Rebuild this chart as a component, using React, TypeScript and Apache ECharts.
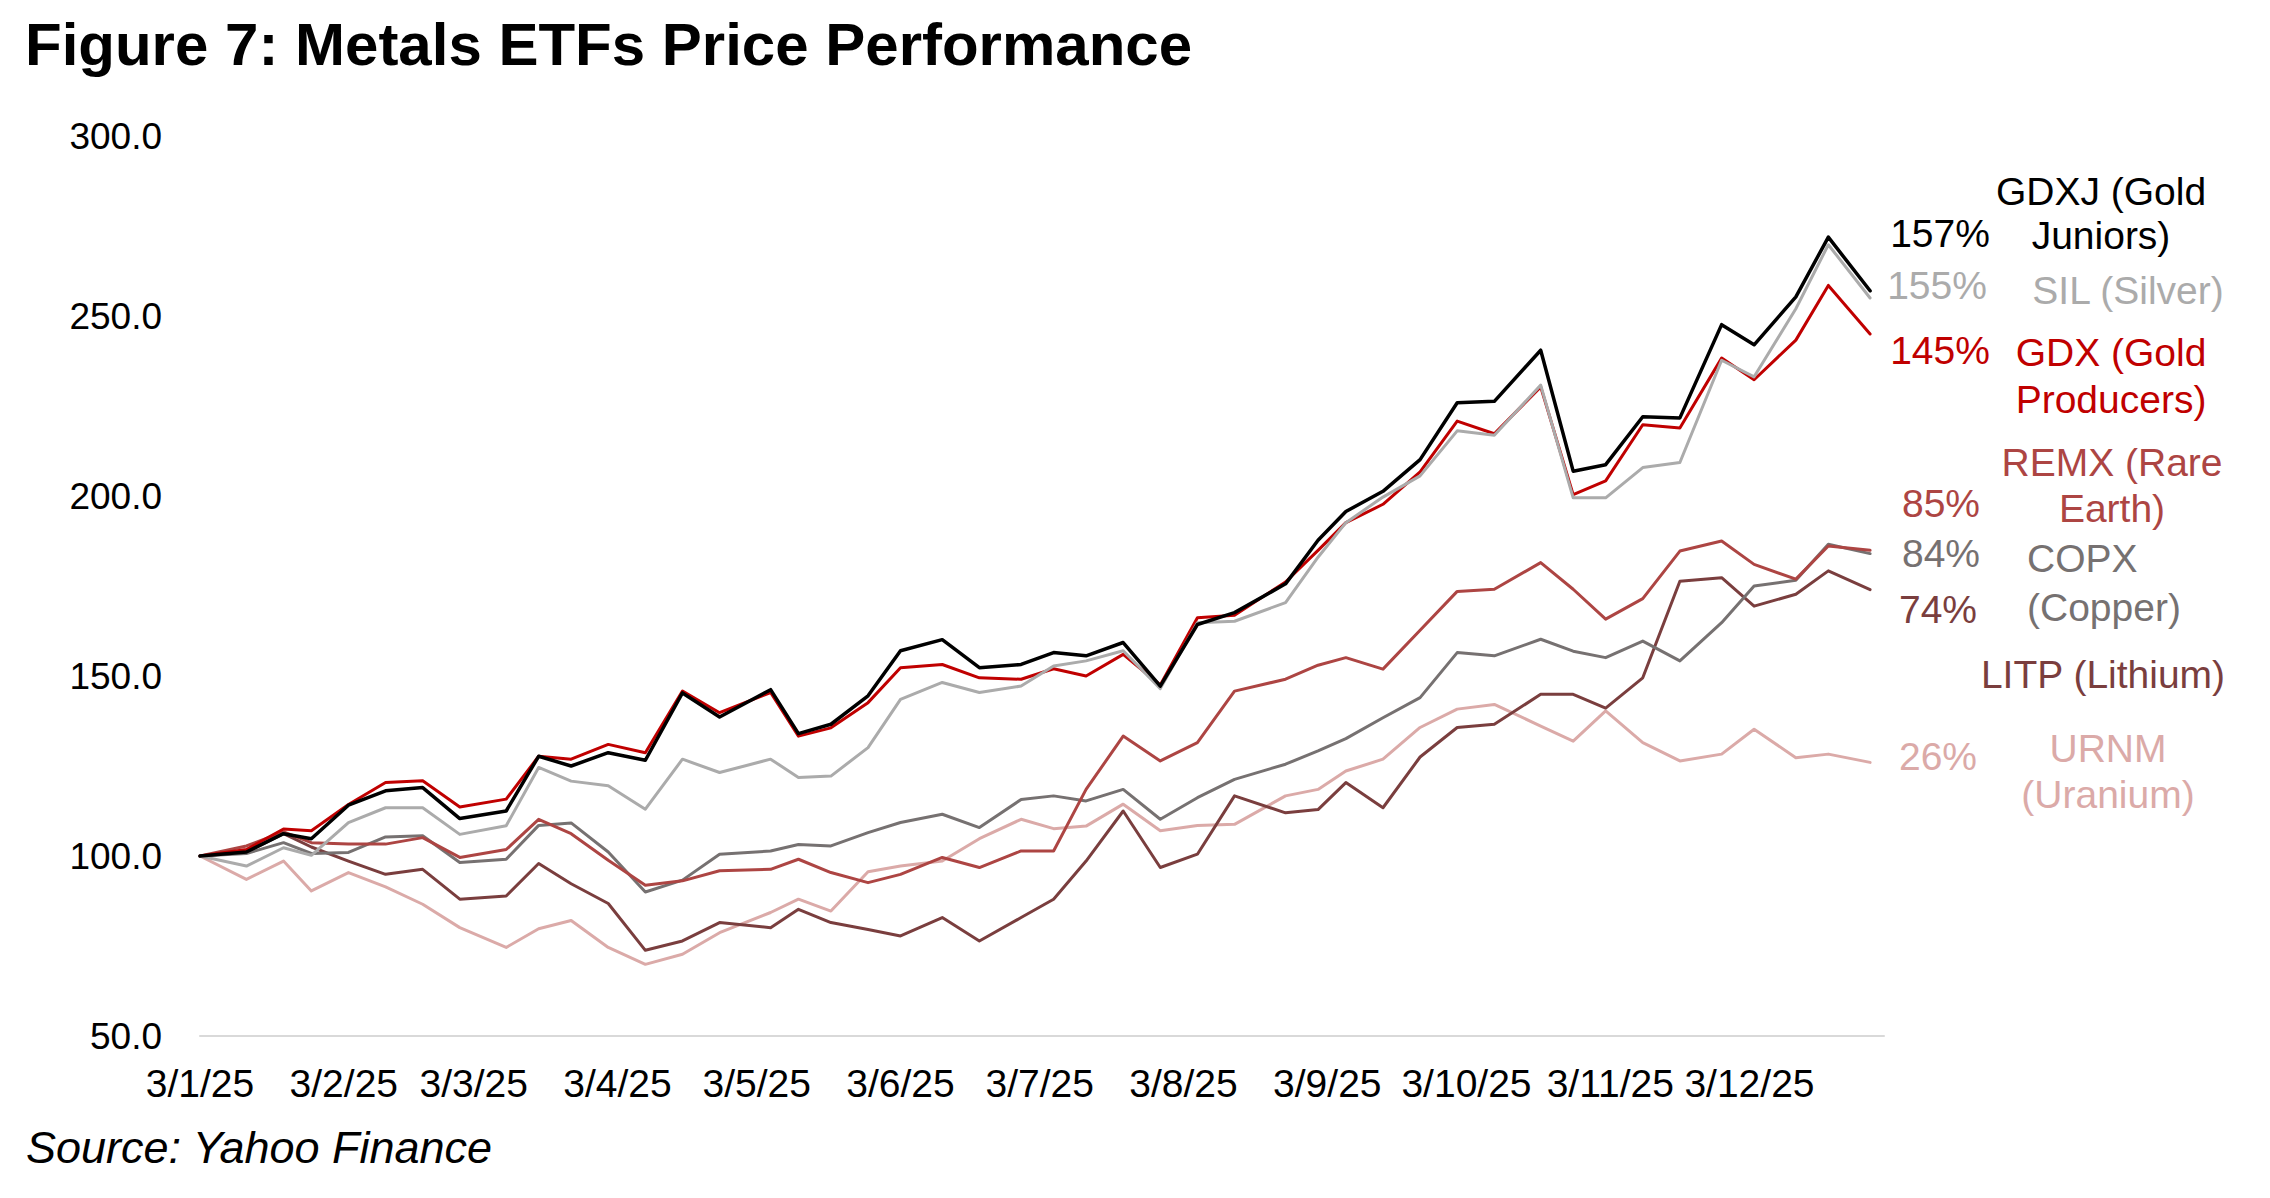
import React, { useEffect, useRef } from "react";
import * as echarts from "echarts";

const dates = [
  "2025-01-03", "2025-01-13", "2025-01-21", "2025-01-27", "2025-02-04", "2025-02-12",
  "2025-02-20", "2025-02-28", "2025-03-10", "2025-03-17", "2025-03-24", "2025-04-01",
  "2025-04-09", "2025-04-17", "2025-04-25", "2025-05-06", "2025-05-12", "2025-05-19",
  "2025-05-27", "2025-06-03", "2025-06-12", "2025-06-20", "2025-06-29", "2025-07-06",
  "2025-07-13", "2025-07-21", "2025-07-29", "2025-08-06", "2025-08-14", "2025-08-25",
  "2025-09-01", "2025-09-07", "2025-09-15", "2025-09-23", "2025-10-01", "2025-10-09",
  "2025-10-19", "2025-10-26", "2025-11-02", "2025-11-10", "2025-11-18", "2025-11-27",
  "2025-12-04", "2025-12-13", "2025-12-20", "2025-12-29",
];

const gdxj = [100, 101.1, 106.2, 104.8, 114.1, 118.1, 119.0, 110.4, 112.5, 127.7, 125.0, 128.7, 126.6, 145.3, 138.6, 146.2, 134.0, 136.6, 144.5, 157.0, 160.1, 152.3, 153.2, 156.5, 155.6, 159.3, 147.2, 164.3, 167.6, 175.6, 187.7, 195.7, 201.3, 210.1, 225.9, 226.3, 240.5, 206.9, 208.7, 222.0, 221.7, 247.6, 242.0, 255.3, 271.9, 257.0];
const sil = [100, 97.2, 102.3, 100.2, 109.3, 113.4, 113.4, 106.0, 108.4, 124.6, 120.8, 119.5, 113.0, 126.9, 123.2, 126.9, 121.8, 122.2, 130.1, 143.5, 148.2, 145.4, 147.2, 152.8, 154.2, 157.0, 146.5, 164.8, 165.2, 170.4, 183.0, 192.6, 199.7, 205.6, 218.1, 216.9, 230.8, 199.5, 199.5, 207.9, 209.3, 237.7, 233.1, 252.0, 269.8, 255.0];
const gdx = [100, 101.8, 107.5, 107.0, 114.3, 120.4, 120.9, 113.6, 115.8, 127.7, 126.9, 131.0, 128.7, 145.8, 139.8, 145.4, 133.3, 135.6, 142.6, 152.3, 153.2, 149.5, 149.1, 152.0, 150.0, 156.0, 147.5, 166.2, 166.9, 176.1, 184.9, 192.6, 197.7, 206.7, 220.8, 217.3, 230.3, 200.4, 204.2, 219.8, 218.9, 238.3, 232.3, 243.3, 258.5, 245.0];
const remx = [100, 102.8, 106.7, 103.7, 103.3, 103.3, 105.1, 99.6, 101.8, 110.2, 106.2, 98.8, 91.9, 93.1, 95.9, 96.3, 99.1, 95.4, 92.6, 94.9, 99.6, 96.8, 101.4, 101.4, 118.5, 133.3, 126.4, 131.5, 145.8, 149.1, 153.0, 155.1, 151.9, 162.7, 173.5, 174.1, 181.5, 174.1, 165.8, 171.5, 184.7, 187.5, 181.0, 176.9, 186.1, 184.9];
const copx = [100, 100.7, 103.7, 100.7, 101.0, 105.3, 105.6, 98.2, 99.1, 108.5, 109.2, 101.1, 90.0, 93.3, 100.5, 101.4, 103.2, 102.8, 106.5, 109.3, 111.6, 107.9, 115.7, 116.7, 115.3, 118.5, 110.2, 116.2, 121.3, 125.5, 129.2, 132.6, 138.4, 144.0, 156.5, 155.6, 160.2, 156.9, 155.1, 159.7, 154.2, 164.8, 175.0, 176.6, 186.6, 184.0];
const litp = [100, 101.1, 106.2, 102.5, 98.6, 94.9, 96.3, 88.0, 88.9, 97.9, 92.3, 86.8, 73.8, 76.4, 81.5, 80.1, 85.2, 81.5, 79.6, 77.8, 82.9, 76.4, 82.9, 88.0, 98.6, 112.5, 96.8, 100.5, 116.7, 112.0, 112.9, 120.4, 113.4, 127.5, 135.7, 136.6, 144.9, 144.9, 141.1, 149.5, 176.3, 177.3, 169.4, 172.7, 179.2, 174.0];
const urnm = [100, 93.5, 98.6, 90.3, 95.4, 91.4, 86.6, 80.1, 74.6, 79.8, 82.1, 74.6, 69.9, 72.7, 78.7, 84.3, 88.0, 84.7, 95.6, 97.2, 98.6, 104.8, 110.2, 107.6, 108.3, 114.4, 107.0, 108.5, 108.8, 116.7, 118.5, 123.6, 126.9, 135.7, 140.8, 142.1, 136.1, 131.9, 140.3, 131.5, 126.4, 128.3, 135.2, 127.3, 128.3, 126.0];

// x-axis tick label dates (shown as d/m/yy)
const tickDates = [
  "2025-01-03", "2025-02-03", "2025-03-03", "2025-04-03", "2025-05-03", "2025-06-03",
  "2025-07-03", "2025-08-03", "2025-09-03", "2025-10-03", "2025-11-03", "2025-12-03",
];
const xStart = "2025-01-03";
const xEnd = "2026-01-01";

const yMin = 50;
const yMax = 300;
const yStep = 50;

const FONT = "'Liberation Sans', Arial, Helvetica, sans-serif";

const C = {
  gdxj: "#000000",
  sil: "#ABABAB",
  gdx: "#C00000",
  remx: "#AD4543",
  copx: "#767171",
  litp: "#7A3E3E",
  urnm: "#DBAAA8",
};

const DAY = 86400000;

function ts(s: string): number {
  const [y, m, d] = s.split("-").map(Number);
  return Date.UTC(y, m - 1, d);
}
// day offset from start of the axis
function dayOf(s: string): number {
  return Math.round((ts(s) - ts(xStart)) / DAY);
}
function labelOf(day: number): string {
  const d = new Date(ts(xStart) + day * DAY);
  return `${d.getUTCDate()}/${d.getUTCMonth() + 1}/${String(d.getUTCFullYear()).slice(2)}`;
}

function pct(arr: number[]): string {
  return Math.round(arr[arr.length - 1] - 100) + "%";
}

function txt(
  x: number,
  y: number,
  text: string,
  fill: string,
  size = 39,
  align = "center",
  weight = "normal",
  style = "normal"
) {
  return {
    type: "text",
    x,
    y,
    silent: true,
    style: {
      text,
      fill,
      fontSize: size,
      fontFamily: FONT,
      fontWeight: weight,
      fontStyle: style,
      align,
      verticalAlign: "middle",
      textAlign: align,
      textVerticalAlign: "middle",
    },
  };
}

export default function App() {
  const ref = useRef<HTMLDivElement>(null);

  useEffect(() => {
    if (!ref.current) return;
    const chart = echarts.init(ref.current, null, { renderer: "svg" });

    const mk = (name: string, values: number[], color: string, width: number) => ({
      name,
      type: "line",
      data: dates.map((d, i) => [dayOf(d), values[i]]),
      showSymbol: false,
      symbol: "none",
      lineStyle: { color, width, cap: "round", join: "round" },
      itemStyle: { color },
      emphasis: { disabled: true },
    });

    const option: any = {
      animation: false,
      backgroundColor: "#ffffff",
      grid: {
        left: 200,
        right: 386,
        top: 136,
        bottom: 162,
        containLabel: false,
      },
      xAxis: {
        type: "value",
        min: 0,
        max: dayOf(xEnd),
        axisLine: { show: true, lineStyle: { color: "#D9D9D9", width: 2 } },
        axisTick: { show: false },
        splitLine: { show: false },
        axisLabel: {
          customValues: tickDates.map(dayOf),
          formatter: (v: number) => labelOf(v),
          fontSize: 39,
          fontFamily: FONT,
          color: "#000000",
          margin: 28,
          hideOverlap: false,
        },
      },
      yAxis: {
        type: "value",
        min: yMin,
        max: yMax,
        interval: yStep,
        axisLine: { show: false },
        axisTick: { show: false },
        splitLine: { show: false },
        axisLabel: {
          formatter: (v: number) => v.toFixed(1),
          fontSize: 37,
          fontFamily: FONT,
          color: "#000000",
          margin: 38,
        },
      },
      series: [
        mk("URNM", urnm, C.urnm, 3),
        mk("LITP", litp, C.litp, 3),
        mk("COPX", copx, C.copx, 3),
        mk("REMX", remx, C.remx, 3),
        mk("GDX", gdx, C.gdx, 3),
        mk("SIL", sil, C.sil, 3),
        mk("GDXJ", gdxj, C.gdxj, 3.5),
      ],
      graphic: [
        txt(25, 44, "Figure 7: Metals ETFs Price Performance", "#000000", 60, "left", "bold"),
        txt(26, 1147, "Source: Yahoo Finance", "#000000", 45, "left", "normal", "italic"),

        txt(1940, 233, pct(gdxj), C.gdxj),
        txt(2101, 191, "GDXJ (Gold", C.gdxj),
        txt(2101, 235, "Juniors)", C.gdxj),

        txt(1937, 285, pct(sil), C.sil),
        txt(2128, 290, "SIL (Silver)", C.sil),

        txt(1940, 350, pct(gdx), C.gdx),
        txt(2111, 352, "GDX (Gold", C.gdx),
        txt(2111, 399, "Producers)", C.gdx),

        txt(2112, 462, "REMX (Rare", C.remx),
        txt(2112, 508, "Earth)", C.remx),
        txt(1941, 503, pct(remx), C.remx),

        txt(1941, 553, pct(copx), C.copx),
        txt(2027, 558, "COPX", C.copx, 39, "left"),
        txt(2027, 607, "(Copper)", C.copx, 39, "left"),

        txt(1938, 609, pct(litp), C.litp),
        txt(2103, 674, "LITP (Lithium)", C.litp),

        txt(1938, 756, pct(urnm), C.urnm),
        txt(2108, 748, "URNM", C.urnm),
        txt(2108, 794, "(Uranium)", C.urnm),
      ],
    };

    chart.setOption(option);
    return () => chart.dispose();
  }, []);

  return (
    <div
      ref={ref}
      style={{
        position: "absolute",
        left: 0,
        top: 0,
        width: 2270,
        height: 1198,
        background: "#ffffff",
      }}
    />
  );
}
